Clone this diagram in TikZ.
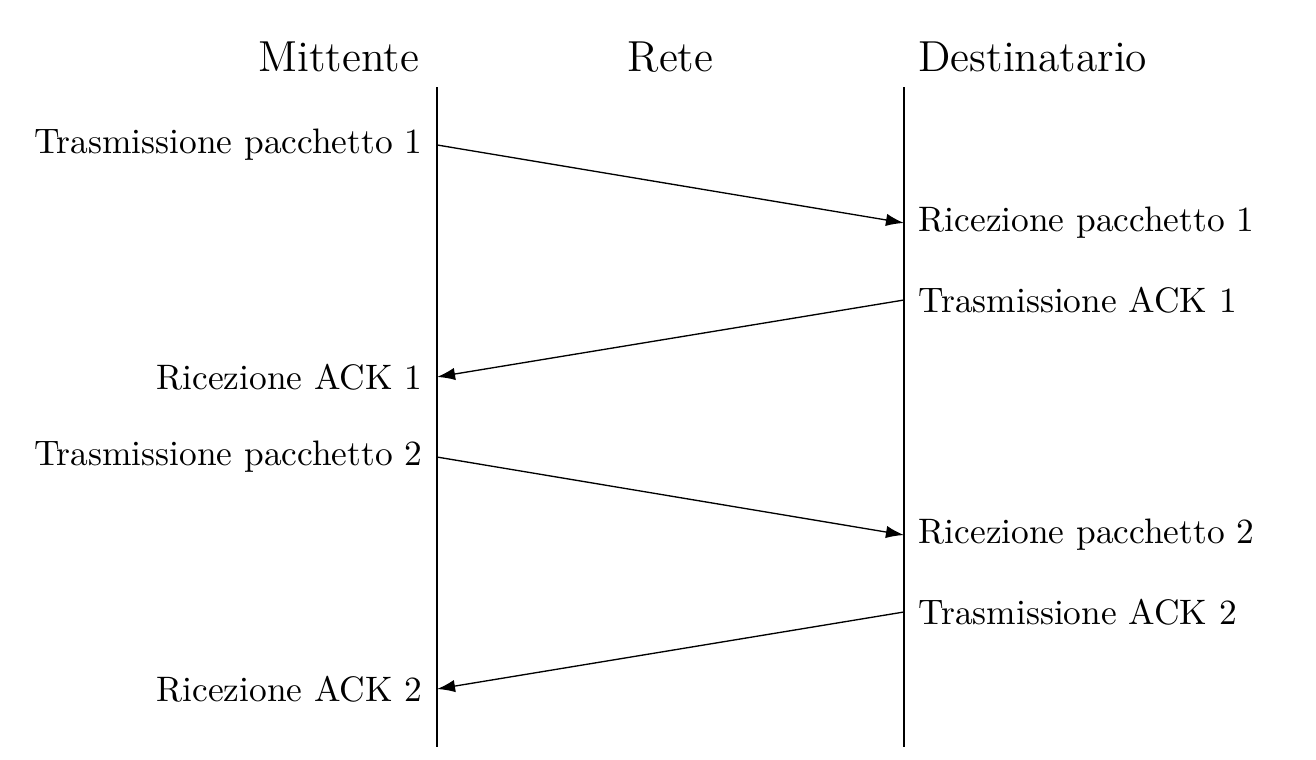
\documentclass[tikz,border=0pt]{standalone}
\usetikzlibrary{arrows.meta}
\tikzset{
  msg/.style={-{Latex[length=1.9mm,width=1.3mm]}},
  head/.style={font=\fontsize{13}{15}\selectfont,inner sep=0pt},
  lbl/.style={font=\fontsize{10.6}{13}\selectfont,inner sep=4.2pt}
}
\begin{document}
\begin{tikzpicture}
			\useasboundingbox (0,0) rectangle (13.853,-8);
			
			\coordinate (mtop) at (4.6,-0.916);
			\coordinate (mbot) at (4.6,-7.863);
			\coordinate (dtop) at (9.516,-0.916);
			\coordinate (dbot) at (9.516,-7.863);
			
			\draw (mtop) -- (mbot);
			\draw (dtop) -- (dbot);
			
			\node[head,anchor=base east] (mitt) at (4.42,-0.75) {Mittente};
			\node[head,anchor=base] (rete) at (7.058,-0.75) {Rete};
			\node[head,anchor=base west] (dest) at (9.66,-0.75) {Destinatario};
			
			\coordinate (tp1) at (4.6,-1.526);
			\coordinate (rp1) at (9.516,-2.347);
			\coordinate (ta1) at (9.516,-3.158);
			\coordinate (ra1) at (4.6,-3.968);
			\coordinate (tp2) at (4.6,-4.811);
			\coordinate (rp2) at (9.516,-5.632);
			\coordinate (ta2) at (9.516,-6.442);
			\coordinate (ra2) at (4.6,-7.253);
			
			\draw[msg] (tp1) -- (rp1);
			\draw[msg] (ta1) -- (ra1);
			\draw[msg] (tp2) -- (rp2);
			\draw[msg] (ta2) -- (ra2);
			
			\node[lbl,left] (ltp1) at (tp1) {Trasmissione pacchetto 1};
			\node[lbl,right] (lrp1) at (rp1) {Ricezione pacchetto 1};
			\node[lbl,right] (lta1) at (ta1) {Trasmissione ACK 1};
			\node[lbl,left] (lra1) at (ra1) {Ricezione ACK 1};
			\node[lbl,left] (ltp2) at (tp2) {Trasmissione pacchetto 2};
			\node[lbl,right] (lrp2) at (rp2) {Ricezione pacchetto 2};
			\node[lbl,right] (lta2) at (ta2) {Trasmissione ACK 2};
			\node[lbl,left] (lra2) at (ra2) {Ricezione ACK 2};
		\end{tikzpicture}
\end{document}
